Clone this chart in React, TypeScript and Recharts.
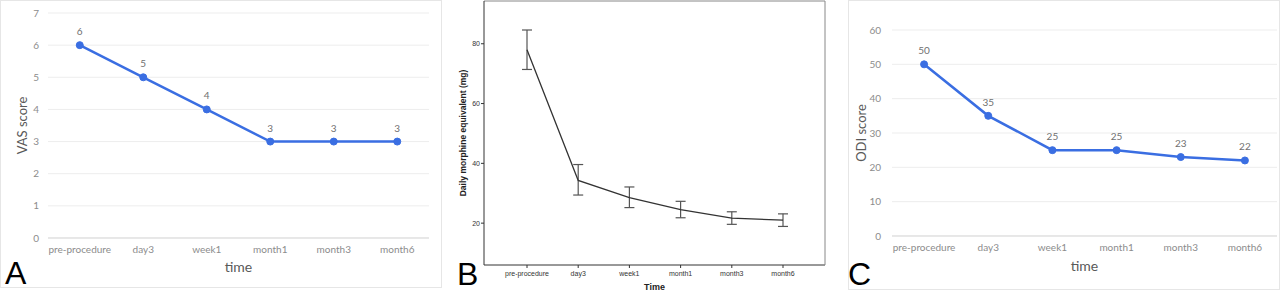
import React from 'react';
import { LineChart, Line, XAxis, YAxis, CartesianGrid, LabelList, ErrorBar } from 'recharts';

// time points shared by the three panels
const categories = ['pre-procedure', 'day3', 'week1', 'month1', 'month3', 'month6'];

// A: VAS score
const vasScores = [6, 5, 4, 3, 3, 3];
const vasTicks = [0, 1, 2, 3, 4, 5, 6, 7];

// B: daily morphine equivalent (mean with error bars)
const morphineMean = [78, 34.3, 28.5, 24.5, 21.7, 21.0];
const morphineLow = [71.4, 29.4, 25.2, 21.8, 19.6, 18.9];
const morphineHigh = [84.6, 39.6, 32.1, 27.3, 23.8, 23.1];
const morphineTicks = [20, 40, 60, 80];

// C: ODI score
const odiScores = [50, 35, 25, 25, 23, 22];
const odiTicks = [0, 10, 20, 30, 40, 50, 60];

const vasData = categories.map((cat, i) => ({ cat, value: vasScores[i] }));
const morphineData = categories.map((cat, i) => ({
  cat,
  mean: morphineMean[i],
  err: [morphineMean[i] - morphineLow[i], morphineHigh[i] - morphineMean[i]],
}));
const odiData = categories.map((cat, i) => ({ cat, value: odiScores[i] }));

const BLUE = '#3a6ee2';
const EXCEL_FONT = 'Lato, "Open Sans", sans-serif';
const SPSS_FONT = '"Liberation Sans", Arial, sans-serif';

const panelLetter = (left: number, top: number): React.CSSProperties => ({
  position: 'absolute',
  left,
  top,
  fontFamily: SPSS_FONT,
  fontSize: 32,
  lineHeight: '24px',
  color: '#000',
});

export default function App() {
  return (
    <div
      style={{
        position: 'absolute',
        left: 0,
        top: 0,
        width: 1280,
        height: 292,
        background: '#fff',
        overflow: 'hidden',
      }}
    >
      {/* Panel A */}
      <div
        style={{
          position: 'absolute',
          left: 0,
          top: 0,
          width: 442,
          height: 288,
          boxSizing: 'border-box',
          border: '1px solid #e6e6e6',
        }}
      >
        <LineChart
          width={440}
          height={286}
          data={vasData}
          margin={{ top: 12, right: 12, left: 0, bottom: 0 }}
          style={{ fontFamily: EXCEL_FONT }}
        >
          <CartesianGrid vertical={false} stroke="#ededed" />
          <XAxis
            dataKey="cat"
            scale="band"
            height={49}
            tickLine={false}
            axisLine={{ stroke: '#d9d9d9' }}
            tick={{ fill: '#8c8c8c', fontSize: 10 }}
            interval={0}
            label={{ value: 'time', position: 'insideBottom', offset: 15, fill: '#595959', fontSize: 14 }}
          />
          <YAxis
            width={47}
            domain={[0, 7]}
            ticks={vasTicks}
            interval={0}
            tickLine={false}
            axisLine={false}
            tickMargin={3}
            tick={{ fill: '#8c8c8c', fontSize: 10 }}
            label={{ value: 'VAS score', angle: -90, position: 'center', dx: -2, fill: '#595959', fontSize: 13 }}
          />
          <Line
            dataKey="value"
            stroke={BLUE}
            strokeWidth={2.5}
            dot={{ r: 3.5, fill: BLUE, stroke: BLUE, strokeWidth: 1 }}
            isAnimationActive={false}
          >
            <LabelList dataKey="value" position="top" offset={10} fill="#707070" fontSize={10} />
          </Line>
        </LineChart>
      </div>
      <div style={panelLetter(5, 261)}>A</div>

      {/* Panel B */}
      <div style={{ position: 'absolute', left: 430, top: 0, width: 400, height: 292 }}>
        <LineChart
          width={400}
          height={292}
          data={morphineData}
          margin={{ top: 0, right: 4, left: 0, bottom: 0 }}
          style={{ fontFamily: SPSS_FONT }}
        >
          <XAxis
            dataKey="cat"
            padding={{ left: 43, right: 42 }}
            height={27}
            interval={0}
            tickSize={3}
            tickMargin={3}
            tickLine={{ stroke: '#333' }}
            axisLine={{ stroke: '#333' }}
            tick={{ fill: '#333', fontSize: 7 }}
            label={{ value: 'Time', position: 'insideBottom', offset: 2, fill: '#222', fontSize: 9, fontWeight: 'bold' }}
          />
          <XAxis
            xAxisId="top"
            dataKey="cat"
            orientation="top"
            height={1}
            tick={false}
            tickLine={false}
            axisLine={{ stroke: '#888' }}
          />
          <YAxis
            width={54}
            domain={[6, 94.3]}
            ticks={morphineTicks}
            interval={0}
            tickSize={3}
            tickMargin={1}
            tickLine={{ stroke: '#333' }}
            axisLine={{ stroke: '#333' }}
            tick={{ fill: '#333', fontSize: 7 }}
            label={{
              value: 'Daily morphine equivalent (mg)',
              angle: -90,
              position: 'center',
              dx: 6,
              fill: '#222',
              fontSize: 8.5,
              fontWeight: 'bold',
            }}
          />
          <YAxis
            yAxisId="right"
            orientation="right"
            width={1}
            domain={[6, 94.3]}
            tick={false}
            tickLine={false}
            axisLine={{ stroke: '#888' }}
          />
          <Line
            dataKey="mean"
            stroke="#333"
            strokeWidth={1.3}
            dot={false}
            isAnimationActive={false}
          >
            <ErrorBar dataKey="err" direction="y" width={5} stroke="#555" strokeWidth={1.2} isAnimationActive={false} />
          </Line>
        </LineChart>
      </div>
      <div style={panelLetter(457, 262)}>B</div>

      {/* Panel C */}
      <div
        style={{
          position: 'absolute',
          left: 848,
          top: 0,
          width: 432,
          height: 290,
          boxSizing: 'border-box',
          border: '1px solid #e6e6e6',
        }}
      >
        <LineChart
          width={430}
          height={288}
          data={odiData}
          margin={{ top: 29, right: 2, left: 0, bottom: 0 }}
          style={{ fontFamily: EXCEL_FONT }}
        >
          <CartesianGrid vertical={false} stroke="#ededed" />
          <XAxis
            dataKey="cat"
            scale="band"
            height={53}
            tickLine={false}
            axisLine={{ stroke: '#d9d9d9' }}
            tick={{ fill: '#8c8c8c', fontSize: 10 }}
            interval={0}
            label={{ value: 'time', position: 'insideBottom', offset: 18, fill: '#595959', fontSize: 14 }}
          />
          <YAxis
            width={43}
            domain={[0, 60]}
            ticks={odiTicks}
            interval={0}
            tickLine={false}
            axisLine={false}
            tickMargin={5}
            tick={{ fill: '#8c8c8c', fontSize: 10 }}
            label={{ value: 'ODI score', angle: -90, position: 'center', dx: -9, fill: '#595959', fontSize: 13 }}
          />
          <Line
            dataKey="value"
            stroke={BLUE}
            strokeWidth={2.5}
            dot={{ r: 3.5, fill: BLUE, stroke: BLUE, strokeWidth: 1 }}
            isAnimationActive={false}
          >
            <LabelList dataKey="value" position="top" offset={10} fill="#707070" fontSize={10} />
          </Line>
        </LineChart>
      </div>
      <div style={panelLetter(848, 262)}>C</div>
    </div>
  );
}
